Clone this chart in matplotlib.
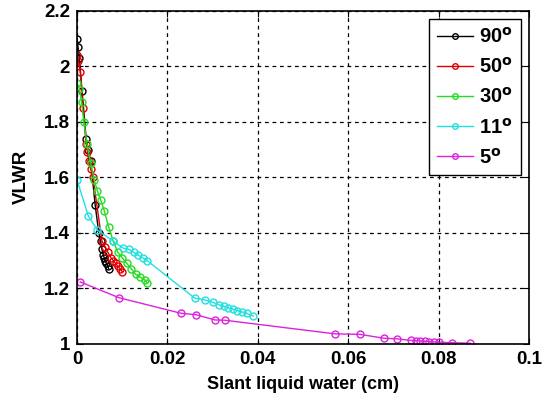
import numpy as np
import matplotlib.pyplot as plt

plt.rcParams['font.family'] = ['Liberation Sans', 'DejaVu Sans']
plt.rcParams['font.weight'] = 'bold'

x90 = [0, 0.0002, 0.0005, 0.0011, 0.0020, 0.0025, 0.0030, 0.0040, 0.0048, 0.0052,
       0.0055, 0.0058, 0.0060, 0.0062, 0.0065, 0.0068, 0.0070]
y90 = [2.10, 2.07, 2.03, 1.91, 1.74, 1.70, 1.66, 1.50, 1.40, 1.37,
       1.34, 1.32, 1.31, 1.30, 1.29, 1.28, 1.27]

x50 = [0, 0.0003, 0.0007, 0.0013, 0.0020, 0.0023, 0.0026, 0.0030, 0.0035, 0.0055,
       0.0062, 0.0068, 0.0075, 0.0080, 0.0085, 0.0090, 0.0095, 0.0100]
y50 = [2.04, 2.02, 1.98, 1.85, 1.72, 1.69, 1.66, 1.63, 1.60, 1.37,
       1.35, 1.33, 1.31, 1.30, 1.29, 1.28, 1.27, 1.26]

x30 = [0, 0.0005, 0.0010, 0.0015, 0.0022, 0.0030, 0.0038, 0.0045, 0.0052, 0.0060,
       0.0070, 0.0080, 0.0090, 0.0100, 0.0110, 0.0120, 0.0130, 0.0140, 0.0150, 0.0155]
y30 = [1.94, 1.92, 1.87, 1.80, 1.72, 1.65, 1.59, 1.55, 1.52, 1.48,
       1.42, 1.37, 1.33, 1.31, 1.29, 1.27, 1.25, 1.24, 1.23, 1.22]

x11 = [0, 0.0025, 0.0045, 0.0080, 0.0102, 0.0115, 0.0125, 0.0135, 0.0145, 0.0155,
       0.0260, 0.0283, 0.0300, 0.0315, 0.0325, 0.0335, 0.0345, 0.0355, 0.0365, 0.0375, 0.0390]
y11 = [1.59, 1.46, 1.41, 1.37, 1.345, 1.34, 1.33, 1.32, 1.31, 1.30,
       1.165, 1.158, 1.15, 1.14, 1.135, 1.13, 1.125, 1.12, 1.115, 1.11, 1.10]

x5 = [0.0007, 0.0093, 0.0230, 0.0263, 0.0305, 0.0327, 0.0570, 0.0626, 0.0680, 0.0708,
      0.0740, 0.0750, 0.0760, 0.0770, 0.0780, 0.0790, 0.0800, 0.0830, 0.0870]
y5 = [1.223, 1.166, 1.11, 1.105, 1.086, 1.085, 1.036, 1.034, 1.02, 1.018,
      1.012, 1.011, 1.01, 1.009, 1.008, 1.007, 1.006, 1.004, 1.002]

series = [(x90, y90, 'k', '90'), (x50, y50, '#e00000', '50'), (x30, y30, '#22dd22', '30'),
          (x11, y11, '#22e0e0', '11'), (x5, y5, '#dd22dd', '5')]

fig = plt.figure(figsize=(5.43, 4.04), dpi=100)
ax = fig.add_axes([0.142, 0.149, 0.832, 0.824])

for xs, ys, c, lab in series:
    ax.plot(xs, ys, '-o', color=c, mfc='none', ms=5, lw=1, mew=1,
            label=lab + r'$^{\rm o}$')

ax.set_xlim(0, 0.1)
ax.set_ylim(1, 2.2)
ax.set_xticks([0, 0.02, 0.04, 0.06, 0.08, 0.1])
ax.set_xticklabels(['0', '0.02', '0.04', '0.06', '0.08', '0.1'])
ax.set_yticks([1, 1.2, 1.4, 1.6, 1.8, 2, 2.2])
ax.set_yticklabels(['1', '1.2', '1.4', '1.6', '1.8', '2', '2.2'])
ax.tick_params(direction='in', top=True, right=True, labelsize=13.5, length=4, pad=5)
ax.grid(True, color='k', linestyle=(0, (3, 3)), linewidth=0.9)
for s in ax.spines.values():
    s.set_linewidth(1.2)

ax.set_xlabel('Slant liquid water (cm)', fontsize=13, fontweight='bold', labelpad=6)
ax.set_ylabel('VLWR', fontsize=13.5, fontweight='bold', labelpad=10)

leg = ax.legend(loc='upper right', fontsize=14.5, fancybox=False, framealpha=1,
                edgecolor='k', borderaxespad=0.4, handlelength=1.8, handletextpad=0.3,
                labelspacing=0.5, markerscale=0.8, borderpad=0.4)
leg.get_frame().set_linewidth(1)

fig.savefig('out.png', dpi=100)
